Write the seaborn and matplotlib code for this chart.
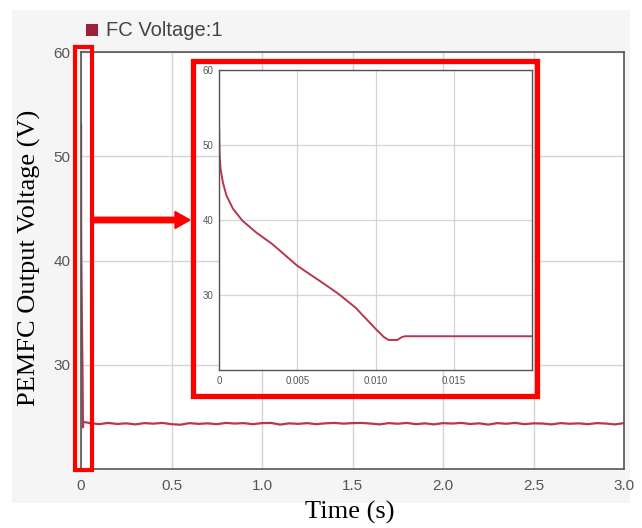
import numpy as np
import pandas as pd
import matplotlib
matplotlib.use("Agg")
import matplotlib.pyplot as plt
from matplotlib.patches import Rectangle, FancyArrow
import seaborn as sns

# ---------------- data ----------------
# transient (start-up) part, seconds / volts
t_transient = [0.0, 0.00004, 0.0001, 0.00025, 0.00047, 0.00089, 0.0015, 0.0024,
               0.0034, 0.0050, 0.0066, 0.00767, 0.00873, 0.0100, 0.01053, 0.01085,
               0.01138, 0.0117, 0.0119, 0.0200]
v_transient = [53.1, 48.6, 46.8, 45.0, 43.3, 41.5, 39.9, 38.3,
               36.8, 33.9, 31.65, 30.1, 28.3, 25.5, 24.4, 24.0,
               24.0, 24.4, 24.5, 24.5]

# steady-state part (main view)
t_steady = [0.05, 0.10, 0.15, 0.20, 0.25, 0.30, 0.35, 0.40, 0.45, 0.50,
            0.55, 0.60, 0.65, 0.70, 0.75, 0.80, 0.85, 0.90, 0.95, 1.00,
            1.05, 1.10, 1.15, 1.20, 1.25, 1.30, 1.35, 1.40, 1.45, 1.50,
            1.55, 1.60, 1.65, 1.70, 1.75, 1.80, 1.85, 1.90, 1.95, 2.00,
            2.05, 2.10, 2.15, 2.20, 2.25, 2.30, 2.35, 2.40, 2.45, 2.50,
            2.55, 2.60, 2.65, 2.70, 2.75, 2.80, 2.85, 2.90, 2.95, 3.00]
v_steady = [24.40, 24.30, 24.42, 24.32, 24.38, 24.28, 24.40, 24.35, 24.42, 24.30,
            24.25, 24.40, 24.33, 24.38, 24.30, 24.42, 24.36, 24.40, 24.30, 24.40,
            24.42, 24.26, 24.38, 24.33, 24.40, 24.30, 24.38, 24.42, 24.35, 24.40,
            24.42, 24.36, 24.28, 24.40, 24.34, 24.42, 24.30, 24.38, 24.28, 24.40,
            24.36, 24.42, 24.32, 24.38, 24.26, 24.40, 24.34, 24.42, 24.30, 24.38,
            24.36, 24.28, 24.40, 24.34, 24.38, 24.30, 24.40, 24.36, 24.28, 24.40]

series_label = "FC Voltage:1"
main_xticks = [0, 0.5, 1.0, 1.5, 2.0, 2.5, 3.0]
main_xticklabels = ["0", "0.5", "1.0", "1.5", "2.0", "2.5", "3.0"]
yticks = [30, 40, 50, 60]
inset_xticks = [0, 0.005, 0.010, 0.015]
inset_xticklabels = ["0", "0.005", "0.010", "0.015"]

df_main = pd.DataFrame({"t": t_transient + t_steady, "v": v_transient + v_steady})
df_zoom = pd.DataFrame({"t": t_transient, "v": v_transient})

# ---------------- style ----------------
sns.set_theme(style="whitegrid")
plt.rcParams["font.family"] = ["Liberation Sans", "DejaVu Sans"]

LINE = "#b8374f"
GRID = "#d4d4d4"
FRAME = "#555555"
TICK = "#555555"

W, H = 642, 528
fig = plt.figure(figsize=(W / 100, H / 100), dpi=100, facecolor="white")

# light grey panel behind the chart
fig.patches.append(Rectangle((12 / W, 1 - 503 / H), (630 - 12) / W, (503 - 10) / H,
                             transform=fig.transFigure, facecolor="#f5f5f5",
                             edgecolor="none", zorder=-10))

def fx(px):
    return px / W

def fy(py):
    return 1 - py / H

# ---------------- main axes ----------------
ax = fig.add_axes([fx(81), fy(469), fx(624) - fx(81), fy(52) - fy(469)])
ax.set_facecolor("white")
sns.lineplot(data=df_main, x="t", y="v", ax=ax, color=LINE, linewidth=1.6, legend=False)
ax.set_xlim(0, 3.0)
ax.set_ylim(20, 60)
ax.set_xticks(main_xticks)
ax.set_xticklabels(main_xticklabels)
ax.set_yticks(yticks)
ax.grid(True, color=GRID, linewidth=1.0)
for s in ax.spines.values():
    s.set_color(FRAME)
    s.set_linewidth(1.2)
ax.tick_params(axis="both", labelsize=11, colors=TICK, length=4, width=1, direction="out")
ax.set_xlabel("")
ax.set_ylabel("")

# ---------------- inset axes ----------------
ia = fig.add_axes([fx(219), fy(370), fx(532) - fx(219), fy(70) - fy(370)])
ia.set_facecolor("white")
sns.lineplot(data=df_zoom, x="t", y="v", ax=ia, color=LINE, linewidth=1.4, legend=False)
ia.set_xlim(0, 0.02)
ia.set_ylim(20, 60)
ia.set_xticks(inset_xticks)
ia.set_xticklabels(inset_xticklabels)
ia.set_yticks(yticks)
ia.grid(True, color=GRID, linewidth=0.9)
for s in ia.spines.values():
    s.set_color(FRAME)
    s.set_linewidth(1.0)
ia.tick_params(axis="both", labelsize=7, colors=TICK, length=2, width=0.8, pad=2)
ia.set_xlabel("")
ia.set_ylabel("")

# ---------------- labels / legend ----------------
fig.text(fx(29), fy(258), "PEMFC Output Voltage (V)", rotation=90, ha="center", va="center",
         fontsize=19, family=["Liberation Serif", "DejaVu Serif"], color="black")
fig.text(fx(350), fy(512), "Time (s)", ha="center", va="center",
         fontsize=19, family=["Liberation Serif", "DejaVu Serif"], color="black")
fig.patches.append(Rectangle((fx(86), fy(36)), fx(98) - fx(86), fy(24) - fy(36),
                             transform=fig.transFigure, facecolor="#9e1f3a",
                             edgecolor="none"))
fig.text(fx(106), fy(30), series_label, ha="left", va="center", fontsize=14.5, color="#444444")

# ---------------- red annotations ----------------
fig.patches.append(Rectangle((fx(74.7), fy(470)), fx(92) - fx(74.7), fy(47) - fy(470),
                             transform=fig.transFigure, fill=False, edgecolor="#ff0000",
                             linewidth=3.0, zorder=20))
fig.patches.append(Rectangle((fx(192.5), fy(395.5)), fx(536.5) - fx(192.5), fy(60.5) - fy(395.5),
                             transform=fig.transFigure, fill=False, edgecolor="#ff0000",
                             linewidth=3.8, zorder=20))
fig.patches.append(FancyArrow(fx(93), fy(220), fx(190) - fx(93), 0,
                              width=5.5 / H, head_width=17 / H, head_length=15 / W,
                              length_includes_head=True, transform=fig.transFigure,
                              color="#ff0000", zorder=21))

fig.savefig("out.png", dpi=100, facecolor=fig.get_facecolor())
